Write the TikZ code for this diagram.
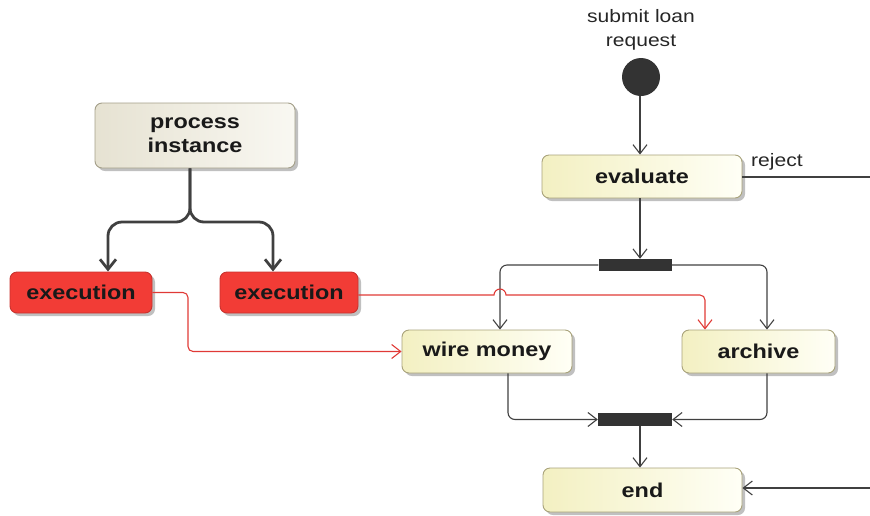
\documentclass[tikz,border=0pt]{standalone}
\usepackage{fontspec}
\setmainfont{Liberation Sans}[FakeStretch=1.17]
\usetikzlibrary{arrows.meta,shadows,calc}
\definecolor{ln}{HTML}{404040}
\definecolor{redln}{HTML}{E03A36}
\definecolor{actdraw}{HTML}{A8A27A}
\definecolor{actleft}{HTML}{F3F0C2}
\definecolor{actright}{HTML}{FFFFF6}
\definecolor{procleft}{HTML}{E6E2D2}
\definecolor{procright}{HTML}{F9F8F2}
\definecolor{procdraw}{HTML}{A39E88}
\definecolor{execfill}{HTML}{F23C36}
\definecolor{execdraw}{HTML}{C8332E}
\definecolor{barfill}{HTML}{333333}
\tikzset{
  boxbase/.style={rounded corners=7pt, align=center, inner sep=0pt,
    font=\bfseries\fontsize{20}{24}\selectfont, text=black!90,
    drop shadow={shadow xshift=3pt, shadow yshift=-3pt, fill=black!45, opacity=.55}},
  actbox/.style={boxbase, draw=actdraw, line width=0.9pt, left color=actleft, right color=actright},
  procbox/.style={boxbase, draw=procdraw, line width=0.9pt, left color=procleft, right color=procright},
  execbox/.style={boxbase, draw=execdraw, line width=0.9pt, fill=execfill},
  barnode/.style={fill=barfill, draw=none, inner sep=0pt},
  flow/.style={draw=ln, line width=1.1pt, -{Straight Barb[length=9pt,width=14pt,line width=1.1pt]}},
  plainflow/.style={draw=ln, line width=1.1pt},
  redflow/.style={draw=redln, line width=1.1pt, -{Straight Barb[length=9pt,width=14pt,line width=1.1pt]}},
  thickflow/.style={draw=ln, line width=2.8pt, rounded corners=14pt, -{Straight Barb[length=10pt,width=16pt,line width=2.8pt]}},
  plainlabel/.style={font=\fontsize{18}{24}\selectfont, text=black!85, align=center, inner sep=0pt}
}
\begin{document}
\begin{tikzpicture}[x=1pt,y=-1pt]
\useasboundingbox (0,0) rectangle (870,515);

% nodes
\node[procbox, minimum width=200pt, minimum height=65pt] (proc) at (195,135.5) {process\\instance};
\node[execbox, minimum width=142pt, minimum height=41pt] (exec1) at (81,292.5) {execution};
\node[execbox, minimum width=138pt, minimum height=41pt] (exec2) at (289,292.5) {execution};

\node[plainlabel] (submit) at (641,30) {submit loan\\request};
\node[circle, fill=barfill, minimum size=38pt, inner sep=0pt] (init) at (641,77) {};
\node[actbox, minimum width=200pt, minimum height=43pt] (eval) at (642,176.5) {evaluate};
\node[barnode, minimum width=73pt, minimum height=12pt] (fork) at (635,265) {};
\node[actbox, minimum width=170pt, minimum height=43pt] (wire) at (487,351.5) {wire money};
\node[actbox, minimum width=153pt, minimum height=43pt] (archive) at (758.5,351.5) {archive};
\node[barnode, minimum width=74pt, minimum height=13pt] (join) at (635,419.5) {};
\node[actbox, minimum width=199pt, minimum height=44pt] (end) at (642.5,490) {end};
\node[plainlabel, anchor=base west] (reject) at (751,166) {reject};

\coordinate (rejout) at (870,177);
\coordinate (endin) at (870,488);

% process instance branches
\draw[thickflow] ([xshift=-5pt]proc.south) |- (150,222) -| ([xshift=27pt]exec1.north);
\draw[thickflow] ([xshift=-5pt]proc.south) |- (230,222) -| ([xshift=-16pt]exec2.north);

% main flow
\draw[flow] ([xshift=-1pt]init.south) -- ([xshift=-2pt]eval.north);
\draw[flow] ([xshift=-2pt]eval.south) -- ([xshift=5pt]fork.north);
\draw[flow, rounded corners=7pt] (fork.west) -| ([xshift=13pt]wire.north);
\draw[flow, rounded corners=7pt] (fork.east) -| ([xshift=8.5pt]archive.north);
\draw[flow, rounded corners=7pt] ([xshift=21pt]wire.south) |- (join.west);
\draw[flow, rounded corners=7pt] ([xshift=8.5pt]archive.south) |- (join.east);
\draw[flow] ([xshift=5pt]join.south) -- ([xshift=-2.5pt]end.north);
\draw[plainflow] (eval.east |- rejout) -- (rejout);
\draw[flow] (endin) -- (end.east |- endin);

% red execution links
\draw[redflow, rounded corners=5pt] (exec1.east) -- (188,292.5) |- (wire.west);
\draw[redflow] (exec2.east |- 0,295) -- (494,295) arc[start angle=180, end angle=360, radius=6]
  [rounded corners=5pt] -- (705,295) -- ([xshift=-53.5pt]archive.north);
\end{tikzpicture}
\end{document}
